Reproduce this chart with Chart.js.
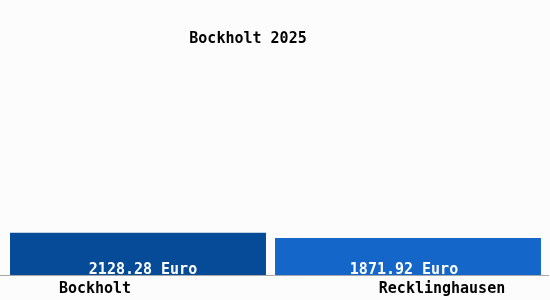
<!DOCTYPE html>
<html>
<head>
<meta charset="utf-8">
<script src="https://cdn.jsdelivr.net/npm/chart.js@4"></script>
<style>
  html, body { margin: 0; padding: 0; background: #fcfcfc; }
  #wrap { width: 550px; height: 300px; position: relative; }
</style>
</head>
<body>
<div id="wrap"><canvas id="chart"></canvas></div>
<script>
// chart data
const titleText = 'Bockholt 2025';
const places = ['Bockholt', 'Recklinghausen'];
const incomes = [2128.28, 1871.92];
const unit = 'Euro';
const barColors = ['#064b98', '#1467c9'];

const FONT = 'bold 15px "DejaVu Sans Mono", monospace';

// draws title, axis line, value labels and category labels
const labelPlugin = {
    id: 'labels',
    afterDatasetsDraw(chart) {
        const ctx = chart.ctx;
        const xs = chart.scales.x;
        const area = chart.chartArea;
        ctx.save();

        // baseline across the whole width
        ctx.strokeStyle = '#a8a8a8';
        ctx.lineWidth = 1;
        ctx.beginPath();
        ctx.moveTo(0, area.bottom + 0.5);
        ctx.lineTo(chart.width - 1, area.bottom + 0.5);
        ctx.stroke();

        ctx.font = FONT;
        ctx.textAlign = 'center';
        ctx.textBaseline = 'alphabetic';

        // title
        ctx.fillStyle = '#000';
        ctx.fillText(titleText, 248, 43);

        // values inside bars (slightly off-centre like the original)
        const valShift = [5, -4];
        ctx.fillStyle = '#fff';
        chart.data.datasets.forEach((ds, d) => {
            chart.getDatasetMeta(d).data.forEach((bar, i) => {
                if (ds.data[i] == null) return;
                ctx.fillText(ds.data[i].toFixed(2) + ' ' + unit, bar.x + valShift[i], area.bottom - 1);
            });
        });

        // category labels under the axis
        ctx.fillStyle = '#000';
        const shift = [-43, 34];
        places.forEach((p, i) => {
            ctx.fillText(p, xs.getPixelForValue(i) + shift[i], 293);
        });
        ctx.restore();
    }
};

// one dataset per place so each bar can get its own width
const barWidths = [0.948, 0.985];
const datasets = places.map((p, i) => ({
    label: p,
    data: incomes.map((v, j) => (j === i ? v : null)),
    backgroundColor: barColors[i],
    borderWidth: 0,
    categoryPercentage: 1,
    barPercentage: barWidths[i]
}));

new Chart(document.getElementById('chart'), {
    type: 'bar',
    data: { labels: places, datasets },
    options: {
        responsive: true,
        maintainAspectRatio: false,
        animation: false,
        skipNull: true,
        layout: { padding: { left: 3, right: 7, top: 60, bottom: 25 } },
        plugins: {
            legend: { display: false },
            title: { display: false },
            tooltip: { enabled: false }
        },
        scales: {
            x: { display: false },
            y: { display: false, min: 0, max: 10850 }
        }
    },
    plugins: [labelPlugin]
});
</script>
</body>
</html>
